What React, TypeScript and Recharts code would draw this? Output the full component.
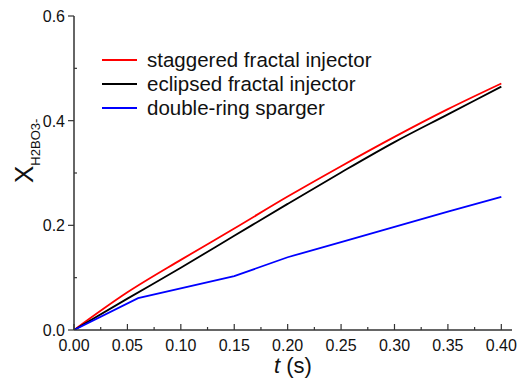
import { LineChart, Line, XAxis, YAxis, Legend } from 'recharts'

// time (s) for the two fractal injectors
const T = [0, 0.05, 0.1, 0.15, 0.2, 0.25, 0.3, 0.35, 0.4]
const STAGGERED = [0, 0.072, 0.134, 0.194, 0.255, 0.313, 0.369, 0.422, 0.471]
const ECLIPSED = [0, 0.06, 0.119, 0.18, 0.241, 0.301, 0.359, 0.412, 0.465]

// double-ring sparger has its own sample times
const T_RING = [0, 0.06, 0.15, 0.2, 0.25, 0.3, 0.35, 0.4]
const RING = [0, 0.061, 0.103, 0.139, 0.168, 0.197, 0.226, 0.2545]

const X_TICKS = [0, 0.025, 0.05, 0.075, 0.1, 0.125, 0.15, 0.175, 0.2, 0.225, 0.25, 0.275, 0.3, 0.325, 0.35, 0.375, 0.4]
const Y_TICKS = [0, 0.1, 0.2, 0.3, 0.4, 0.5, 0.6]

const SERIES = [
    { name: 'staggered fractal injector', color: '#ff0000', t: T, y: STAGGERED, type: 'monotone' },
    { name: 'eclipsed fractal injector', color: '#000000', t: T, y: ECLIPSED, type: 'monotone' },
    { name: 'double-ring sparger', color: '#0000ff', t: T_RING, y: RING, type: 'linear' },
]

const FONT = '"Liberation Sans", Arial, sans-serif'
const AXIS = '#333'

const isMajor = (v: number, step: number) => Math.abs(v / step - Math.round(v / step)) < 1e-6

const BottomTick = (p: any) => {
    const v = p.payload.value
    const major = isMajor(v, 0.05)
    return (
        <g>
            <line x1={p.x} x2={p.x} y1={p.y} y2={p.y - (major ? 6 : 3)} stroke={AXIS} strokeWidth={1.2} />
            {major && (
                <text x={p.x} y={p.y + 21} textAnchor="middle" fontSize={16} fontFamily={FONT} fill="#111">
                    {v.toFixed(2)}
                </text>
            )}
        </g>
    )
}

const TopTick = (p: any) => {
    const major = isMajor(p.payload.value, 0.05)
    return <line x1={p.x} x2={p.x} y1={p.y} y2={p.y + (major ? 5 : 3)} stroke={AXIS} strokeWidth={1.2} />
}

const LeftTick = (p: any) => {
    const v = p.payload.value
    const major = isMajor(v, 0.2)
    return (
        <g>
            {major ? (
                <line x1={p.x - 6} x2={p.x} y1={p.y} y2={p.y} stroke={AXIS} strokeWidth={1.2} />
            ) : (
                <line x1={p.x} x2={p.x + 3} y1={p.y} y2={p.y} stroke={AXIS} strokeWidth={1.2} />
            )}
            {major && (
                <text x={p.x - 9} y={p.y + 6} textAnchor="end" fontSize={16} fontFamily={FONT} fill="#111">
                    {v.toFixed(1)}
                </text>
            )}
        </g>
    )
}

const RightTick = (p: any) => {
    const major = isMajor(p.payload.value, 0.2)
    return <line x1={p.x} x2={p.x - (major ? 5 : 3)} y1={p.y} y2={p.y} stroke={AXIS} strokeWidth={1.2} />
}

const YLabel = (p: any) => {
    const vb = p.viewBox
    const x = vb.x + 33
    const y = vb.y + vb.height / 2 + 10
    return (
        <text transform={`rotate(-90, ${x}, ${y})`} x={x} y={y} fontFamily={FONT} fill="#111">
            <tspan fontSize={26}>X</tspan>
            <tspan fontSize={13} dy={7}>H2BO3-</tspan>
        </text>
    )
}

const XLabel = (p: any) => {
    const vb = p.viewBox
    return (
        <text x={vb.x + vb.width / 2} y={vb.y + 43} textAnchor="middle" fontSize={22} fontFamily={FONT} fill="#111">
            <tspan fontStyle="italic">t</tspan>
            <tspan> (s)</tspan>
        </text>
    )
}

const LegendBox = () => (
    <div style={{ fontFamily: FONT, fontSize: 20.5, color: '#111' }}>
        {SERIES.map((s) => (
            <div key={s.name} style={{ display: 'flex', alignItems: 'center', height: 24 }}>
                <div style={{ width: 35, height: 2, background: s.color, marginRight: 10 }} />
                <span>{s.name}</span>
            </div>
        ))}
    </div>
)

const App = () => {
    return (
        <div style={{ position: 'absolute', left: 0, top: 0, background: '#fff' }}>
            <LineChart width={520} height={378} margin={{ top: 16, right: 8, bottom: 0, left: 0 }}>
                <XAxis
                    dataKey="t"
                    type="number"
                    domain={[0, 0.41]}
                    ticks={X_TICKS}
                    interval={0}
                    allowDataOverflow
                    height={48}
                    tickSize={0}
                    tickMargin={0}
                    tick={<BottomTick />}
                    stroke={AXIS}
                    strokeWidth={1.5}
                    label={<XLabel />}
                />
                <XAxis
                    xAxisId="top"
                    orientation="top"
                    type="number"
                    domain={[0, 0.41]}
                    ticks={X_TICKS}
                    interval={0}
                    allowDataOverflow
                    height={0}
                    tickSize={0}
                    tickMargin={0}
                    tick={<TopTick />}
                    stroke={AXIS}
                    strokeWidth={1.5}
                />
                <YAxis
                    type="number"
                    domain={[0, 0.6]}
                    ticks={Y_TICKS}
                    interval={0}
                    allowDataOverflow
                    width={74}
                    tickSize={0}
                    tickMargin={0}
                    tick={<LeftTick />}
                    stroke={AXIS}
                    strokeWidth={1.5}
                    label={<YLabel />}
                />
                <YAxis
                    yAxisId="right"
                    orientation="right"
                    type="number"
                    domain={[0, 0.6]}
                    ticks={Y_TICKS}
                    interval={0}
                    allowDataOverflow
                    width={0}
                    tickSize={0}
                    tickMargin={0}
                    tick={<RightTick />}
                    stroke="#111"
                    strokeWidth={2}
                />
                <Legend
                    layout="horizontal"
                    verticalAlign="middle"
                    align="center"
                    content={<LegendBox />}
                    wrapperStyle={{ left: 102, top: 48, width: 330 }}
                />
                {SERIES.map((s) => (
                    <Line
                        key={s.name}
                        name={s.name}
                        data={s.t.map((t, i) => ({ t, y: s.y[i] }))}
                        dataKey="y"
                        type={s.type as any}
                        stroke={s.color}
                        strokeWidth={1.8}
                        dot={false}
                        isAnimationActive={false}
                    />
                ))}
            </LineChart>
        </div>
    )
}

export default App
